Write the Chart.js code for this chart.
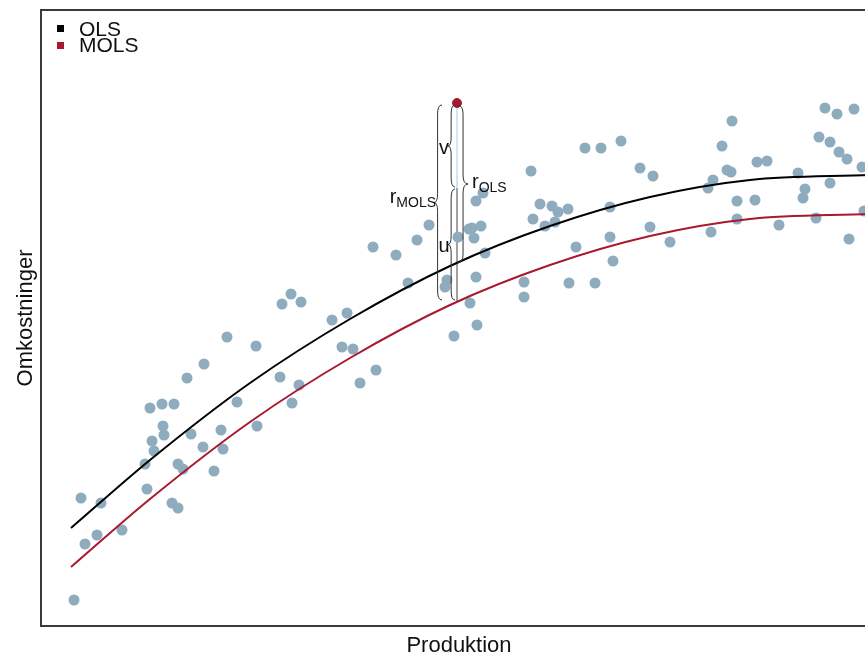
<!DOCTYPE html>
<html>
<head>
<meta charset="utf-8">
<script src="https://cdn.jsdelivr.net/npm/chart.js@4"></script>
<style>
  html, body { margin: 0; padding: 0; background: #fff; overflow: hidden; }
  #wrap { width: 900px; height: 656px; }
</style>
</head>
<body>
<div id="wrap"><canvas id="c" width="900" height="656"></canvas></div>
<script>
// Observed firms: production (x) and cost (y), arbitrary units
const firmX = [33, 40, 60, 81, 56, 44, 106, 131, 137, 104, 137, 142, 173, 111, 113, 122, 123, 150, 180, 182, 162,
  109, 121, 133, 146, 163, 186, 215, 196, 216, 239, 251, 258, 241, 250, 260,
  291, 306, 301, 312, 319, 335, 332, 355, 367, 376, 388, 406, 404, 413, 417, 428, 431, 440, 433, 444, 435, 442,
  435, 429, 436, 490, 483, 483, 492, 504, 499, 511, 517, 527, 514, 535, 528, 554, 544, 560,
  784, 796, 813, 691, 580, 681, 778, 789, 798, 806, 821, 716, 726, 599, 612, 686, 690, 757, 764, 762, 789,
  672, 667, 696, 714, 569, 823, 696, 775, 738, 670, 609, 569, 629, 808, 572];
const firmY = [26, 128, 123, 96, 91, 82, 137, 123, 118, 162, 162, 157, 155, 185, 175, 200, 191, 192, 196, 177, 179,
  218, 222, 222, 248, 262, 289, 280, 224, 200, 249, 223, 241, 322, 332, 324,
  306, 313, 279, 277, 243, 256, 379, 371, 343, 386, 401, 346, 339, 290, 389, 397, 398, 400, 388, 373, 425, 433,
  349, 323, 301, 455, 344, 329, 407, 400, 422, 420, 414, 417, 404, 379, 343, 343, 478, 478,
  518, 512, 517, 505, 485, 480, 489, 484, 474, 467, 459, 464, 465, 458, 450, 456, 454, 453, 437, 428, 443,
  446, 438, 425, 426, 419, 415, 407, 408, 401, 394, 399, 389, 384, 387, 365];

// Fitted cost curves, read at a few production levels
const curveX = [30, 109, 209, 309, 409, 509, 609, 709, 829];
const olsY   = [98, 166, 243, 307, 360, 400, 429, 446, 451];
const molsY  = [59, 127, 204, 268, 321, 361, 390, 407, 412];

// The highlighted firm and the split of its residual
const focusX = 416;
const focusY = 523;
const olsAtFocus = 363;
const molsAtFocus = 324;
const splitAtFocus = 438;

const legendLabels = ['OLS', 'MOLS'];
const axisTitleX = 'Produktion';
const axisTitleY = 'Omkostninger';

const POINT = '#8fabbe';
const RED = '#a8192e';
const INK = '#111111';
const FONT = '"Liberation Sans", Arial, sans-serif';

function toXY(xs, ys) { return xs.map((v, i) => ({ x: v, y: ys[i] })); }

function brace(ctx, x, yTop, yBot, width, dir) {
  const xb = x + dir * width * 0.55;
  const xc = x + dir * width;
  const ym = (yTop + yBot) / 2;
  const k = Math.min(9, (yBot - yTop) / 6);
  ctx.beginPath();
  ctx.moveTo(x, yTop);
  ctx.quadraticCurveTo(xb, yTop, xb, yTop + k);
  ctx.lineTo(xb, ym - k);
  ctx.quadraticCurveTo(xb, ym, xc, ym);
  ctx.quadraticCurveTo(xb, ym, xb, ym + k);
  ctx.lineTo(xb, yBot - k);
  ctx.quadraticCurveTo(xb, yBot, x, yBot);
  ctx.stroke();
}

const decorations = {
  id: 'decorations',
  beforeDatasetsDraw(chart) {
    const { ctx, scales: { x, y } } = chart;
    const px = x.getPixelForValue(focusX);
    ctx.save();
    ctx.lineWidth = 1;
    ctx.strokeStyle = '#9fd0ec';
    ctx.beginPath();
    ctx.moveTo(px, y.getPixelForValue(focusY));
    ctx.lineTo(px, y.getPixelForValue(splitAtFocus));
    ctx.stroke();
    ctx.strokeStyle = '#444';
    ctx.beginPath();
    ctx.moveTo(px, y.getPixelForValue(splitAtFocus));
    ctx.lineTo(px, y.getPixelForValue(molsAtFocus));
    ctx.stroke();
    ctx.restore();
  },
  afterDatasetsDraw(chart) {
    const { ctx, scales: { x, y } } = chart;
    const px = x.getPixelForValue(focusX);
    const top = y.getPixelForValue(focusY) + 2;
    const pOls = y.getPixelForValue(olsAtFocus);
    const pMols = y.getPixelForValue(molsAtFocus);
    const pSplit = y.getPixelForValue(splitAtFocus);
    ctx.save();
    ctx.strokeStyle = '#333';
    ctx.lineWidth = 1;
    brace(ctx, px - 15, top, pMols - 2, 8, -1);   // r MOLS
    brace(ctx, px, top, pOls, 11, 1);             // r OLS
    brace(ctx, px - 2, top, pSplit - 1, 7, -1);   // v
    brace(ctx, px - 2, pSplit + 1, pMols - 2, 7, -1); // u

    ctx.fillStyle = INK;
    ctx.textBaseline = 'alphabetic';
    ctx.font = '20px ' + FONT;
    ctx.textAlign = 'center';
    ctx.fillText('v', px - 13, (top + pSplit) / 2 + 7);
    ctx.fillText('u', px - 13, (pSplit + pMols) / 2 + 7);

    // r with subscripts
    ctx.textAlign = 'left';
    const midMols = (top + pMols) / 2;
    ctx.font = '14px ' + FONT;
    const wSubM = ctx.measureText('MOLS').width;
    ctx.font = '20px ' + FONT;
    const wR = ctx.measureText('r').width;
    const rightM = px - 21;
    ctx.fillText('r', rightM - wSubM - wR, midMols - 1);
    ctx.font = '14px ' + FONT;
    ctx.fillText('MOLS', rightM - wSubM, midMols + 3);

    const midOls = (top + pOls) / 2;
    ctx.font = '20px ' + FONT;
    ctx.fillText('r', px + 15, midOls + 4);
    ctx.font = '14px ' + FONT;
    ctx.fillText('OLS', px + 15 + wR, midOls + 8);
    ctx.restore();
  },
  afterDraw(chart) {
    const { ctx, chartArea: a } = chart;
    ctx.save();
    // frame
    ctx.strokeStyle = '#3a3a3a';
    ctx.lineWidth = 2;
    ctx.strokeRect(a.left, a.top, a.right - a.left, a.bottom - a.top);

    // legend
    const colors = ['#000000', RED];
    ctx.font = '21px ' + FONT;
    ctx.textAlign = 'left';
    ctx.textBaseline = 'alphabetic';
    legendLabels.forEach((lab, i) => {
      ctx.fillStyle = colors[i];
      ctx.fillRect(57, 25 + i * 17, 7, 7);
      ctx.fillStyle = INK;
      ctx.fillText(lab, 79, 36 + i * 16);
    });

    // axis titles
    ctx.font = '22px ' + FONT;
    ctx.textAlign = 'center';
    ctx.fillText(axisTitleX, (a.left + a.right) / 2, 652);
    ctx.translate(32, (a.top + a.bottom) / 2);
    ctx.rotate(-Math.PI / 2);
    ctx.fillText(axisTitleY, 0, 0);
    ctx.restore();
  }
};

new Chart(document.getElementById('c'), {
  type: 'scatter',
  data: {
    datasets: [
      {
        label: 'OLS',
        data: toXY(curveX, olsY),
        showLine: true,
        borderColor: '#000',
        borderWidth: 2,
        pointRadius: 0,
        cubicInterpolationMode: 'monotone',
        order: 1
      },
      {
        label: 'MOLS',
        data: toXY(curveX, molsY),
        showLine: true,
        borderColor: RED,
        borderWidth: 2,
        pointRadius: 0,
        cubicInterpolationMode: 'monotone',
        order: 1
      },
      {
        label: 'Firms',
        data: toXY(firmX, firmY),
        backgroundColor: POINT,
        borderWidth: 0,
        pointRadius: 5.5,
        order: 2
      },
      {
        label: 'Focus',
        data: [{ x: focusX, y: focusY }],
        backgroundColor: RED,
        borderColor: RED,
        borderWidth: 1,
        pointRadius: 4.5,
        order: 0
      }
    ]
  },
  options: {
    responsive: false,
    animation: false,
    devicePixelRatio: 1,
    layout: { padding: { left: 41, top: 10, right: 23, bottom: 30 } },
    plugins: { legend: { display: false }, tooltip: { enabled: false } },
    scales: {
      x: { display: false, min: 0, max: 836 },
      y: { display: false, min: 0, max: 616 }
    }
  },
  plugins: [decorations]
});
</script>
</body>
</html>
